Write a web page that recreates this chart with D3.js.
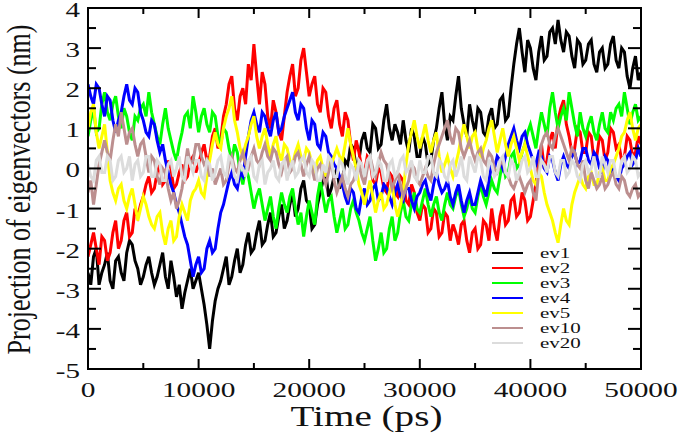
<!DOCTYPE html>
<html>
<head>
<meta charset="utf-8">
<script src="https://cdn.jsdelivr.net/npm/d3@7"></script>
<style>
  body { margin: 0; background: #fff; }
  text { font-family: "Liberation Serif", "Times New Roman", serif; fill: #111; }
</style>
</head>
<body>
<div id="chart"></div>
<script>
// sampled every 250 ps, 0 .. 50000 (20 values per row = 5000 ps)
const times = d3.range(0, 50001, 250)

const ev1 = [
  -2.6, -2.9, -2.2, -2.0, -2.9, -2.6, -2.4, -2.1, -2.8, -3.0, -2.3, -2.2, -2.6, -2.8, -2.1, -1.8, -1.9, -2.3, -2.5, -2.9,
  -2.7, -2.4, -2.2, -2.6, -2.9, -2.7, -2.4, -2.1, -2.7, -3.0, -2.3, -2.7, -3.2, -2.9, -3.5, -3.1, -2.8, -2.5, -3.0, -2.8,
  -2.6, -3.0, -3.4, -3.9, -4.5, -3.8, -3.3, -3.0, -2.8, -2.5, -2.2, -2.9, -2.7, -2.3, -2.0, -2.6, -2.4, -1.9, -1.6, -2.1,
  -2.0, -1.6, -1.3, -1.9, -1.8, -1.4, -1.1, -1.7, -1.6, -1.2, -0.9, -1.5, -1.3, -0.9, -0.6, -1.2, -1.0, -0.5, -0.3, -0.8,
  -0.9, -1.5, -1.4, -0.9, -0.6, -0.3, -0.1, -0.7, -0.5, -0.2, 0.0, -0.5, -0.3, 0.2, 0.1, 0.6, 0.5, 0.0, 0.2, 0.7,
  0.9, 0.5, 0.4, 1.1, 1.0, 0.5, 0.6, 1.2, 1.6, 1.0, 0.7, 1.1, 0.9, 0.6, 1.2, 0.7, 0.4, 1.0, 0.8, 0.3,
  0.3, 0.8, 0.6, 0.1, 0.2, 0.7, 1.0, 1.5, 1.9, 1.1, 0.7, 1.3, 1.2, 1.8, 2.3, 1.5, 1.1, 0.8, 1.6, 1.2,
  0.9, 1.5, 1.4, 0.9, 0.8, 1.3, 1.5, 1.0, 1.1, 1.7, 1.8, 1.2, 1.3, 2.0, 2.6, 3.1, 3.5, 2.9, 2.4, 3.2,
  3.0, 2.5, 2.2, 2.9, 3.3, 2.7, 2.8, 3.4, 3.5, 3.1, 3.7, 3.2, 2.9, 3.4, 3.3, 2.8, 2.5, 3.2, 3.1, 2.6,
  2.7, 3.1, 3.2, 2.6, 2.4, 2.9, 3.0, 2.5, 2.6, 3.1, 3.3, 2.7, 2.5, 3.0, 2.9, 2.3, 2.0, 2.5, 2.8, 2.2,
  2.4]

const ev2 = [
  -2.2, -1.9, -1.6, -2.0, -2.4, -1.7, -1.8, -2.3, -2.1, -1.6, -1.3, -2.0, -1.8, -1.3, -1.1, -1.7, -1.6, -1.0, -1.2, -0.9,
  -0.7, -0.4, -0.2, -0.6, -0.5, -0.1, 0.1, -0.4, -0.3, 0.2, 0.0, -0.5, -0.4, -0.1, 0.1, -0.3, -0.2, 0.2, 0.3, -0.1,
  0.1, 0.4, 0.6, 0.2, 0.3, 0.8, 1.0, 0.5, 0.7, 1.3, 1.6, 2.1, 2.3, 1.5, 1.2, 1.8, 2.0, 1.6, 2.6, 2.2,
  3.1, 2.3, 1.6, 2.4, 2.1, 1.3, 1.0, 1.7, 1.4, 0.9, 0.7, 1.3, 1.9, 2.3, 2.6, 1.8, 2.0, 2.7, 3.0, 2.4,
  1.8, 2.1, 2.3, 1.6, 1.4, 2.0, 1.9, 1.3, 1.0, 1.5, 1.7, 1.1, 0.8, 1.4, 1.2, 0.6, 0.2, 0.7, 0.4, 0.0,
  -0.1, 0.3, 0.2, -0.3, -0.4, 0.0, -0.1, -0.5, -0.6, -0.1, -0.2, -0.6, -0.7, -0.2, -0.3, -0.8, -0.9, -0.4, -0.6, -1.1,
  -1.3, -0.9, -1.0, -1.6, -1.5, -1.0, -1.1, -1.7, -1.6, -1.1, -1.2, -1.8, -1.4, -1.6, -1.9, -1.4, -1.3, -1.8, -2.1, -1.6,
  -1.5, -2.0, -1.9, -1.3, -1.4, -1.8, -1.0, -1.5, -1.8, -1.2, -0.9, -1.4, -1.3, -0.8, -0.7, -1.2, -1.1, -0.6, -0.8, -1.3,
  -1.2, -0.8, -0.4, 0.2, 0.6, 0.0, 0.2, 0.7, 0.9, 0.5, 1.2, 1.5, 1.7, 1.1, 0.8, 0.4, 0.5, 1.0, 0.9, 0.4,
  0.4, 0.9, 0.8, 0.2, 0.3, 0.8, 0.7, 0.2, 0.4, 1.0, 0.9, 0.5, 0.6, 0.2, 0.3, 0.8, 0.7, 0.3, 0.4, 0.8,
  0.6]

const ev3 = [
  0.8, 1.2, 1.5, 0.9, 1.0, 1.6, 1.9, 1.4, 1.2, 1.6, 1.8, 1.3, 1.0, 1.5, 1.3, 0.9, 0.7, 1.3, 1.2, 1.5,
  1.6, 1.3, 1.9, 1.4, 1.1, 0.8, 0.6, 1.1, 1.5, 1.0, 0.7, 0.4, 0.2, 0.6, 0.9, 1.3, 1.4, 1.0, 1.8, 1.4,
  0.9, 1.3, 1.5, 1.1, 0.9, 1.4, 1.3, 0.8, 0.6, 1.0, 0.9, 0.5, 0.2, 0.6, 0.4, -0.1, -0.4, 0.0, -0.2, -0.6,
  -1.0, -0.7, -0.5, -0.9, -1.3, -1.0, -0.7, -1.2, -1.5, -1.0, -0.6, -0.9, -1.1, -0.7, -0.5, -1.0, -1.4, -1.1, -1.7, -1.2,
  -0.8, -1.1, -1.4, -0.7, -0.3, -0.7, -1.1, -0.8, -0.7, -1.2, -1.6, -1.3, -1.0, -1.5, -1.4, -1.0, -0.8, -1.1, -1.3, -1.6,
  -1.8, -1.5, -1.2, -1.8, -2.3, -2.0, -1.6, -2.1, -2.0, -1.5, -1.2, -1.8, -1.6, -1.1, -0.8, -1.2, -1.3, -0.9, -0.6, -1.0,
  -1.1, -0.8, -0.5, -0.9, -1.2, -0.9, -0.7, -1.1, -1.3, -0.9, -0.6, -0.9, -1.0, -0.7, -0.5, -0.9, -1.2, -1.0, -0.7, -1.0,
  -1.1, -0.7, -0.4, -0.7, -0.9, -0.6, -0.3, -0.5, -0.6, -0.2, 0.2, -0.2, -0.1, 0.3, 0.4, 0.0, 0.1, 0.4, 0.6, 0.9,
  1.1, 0.8, 0.5, 1.0, 1.4, 1.1, 0.8, 1.5, 1.9, 1.4, 1.0, 1.3, 1.5, 1.2, 1.9, 1.5, 1.1, 0.8, 1.4, 1.0,
  0.8, 1.1, 1.3, 0.9, 0.7, 1.1, 1.4, 1.0, 0.9, 1.4, 1.2, 1.5, 1.6, 1.3, 1.9, 1.5, 1.1, 1.4, 1.6, 1.2,
  1.3]

const ev4 = [
  2.1, 1.8, 1.6, 2.1, 2.0, 1.6, 1.3, 1.8, 1.7, 1.2, 0.9, 1.2, 1.4, 1.8, 2.1, 1.7, 1.6, 2.0, 1.9, 1.4,
  1.2, 0.9, 0.8, 1.2, 1.1, 0.7, 0.4, 0.6, 0.2, -0.1, -0.4, -0.6, -0.9, -1.1, -1.4, -1.7, -1.9, -2.3, -2.7, -2.4,
  -2.2, -2.6, -2.5, -2.0, -1.8, -2.1, -2.0, -1.5, -1.1, -0.9, -0.6, -0.3, -0.1, -0.4, -0.5, -0.1, -0.2, 0.3, 0.8, 1.2,
  1.4, 1.1, 0.9, 1.4, 1.3, 1.0, 0.8, 1.2, 1.4, 0.9, 1.0, 1.3, 1.5, 1.7, 1.9, 1.4, 1.2, 1.6, 1.5, 1.0,
  0.7, 1.2, 1.1, 0.6, 0.5, 0.9, 0.8, 0.4, 0.3, 0.1, 0.0, -0.2, -0.4, -0.7, -0.9, -0.5, -0.6, -1.0, -1.1, -0.7,
  -0.5, -0.9, -0.8, -0.5, -0.4, -0.8, -0.7, -0.4, -0.5, -0.7, -0.9, -0.6, -0.4, -0.7, -0.8, -0.5, -0.5, -0.8, -1.0, -0.7,
  -0.6, -0.4, -0.3, -0.6, -0.8, -0.4, -0.1, -0.4, -0.6, -0.5, -0.3, -0.7, -0.9, -0.6, -0.4, -0.8, -1.1, -0.8, -0.6, -0.9,
  -0.9, -0.6, -0.3, -0.5, -0.7, -0.3, 0.1, 0.0, 0.3, 0.2, 0.0, 0.3, 0.6, 0.8, 1.0, 0.7, 0.5, 0.8, 0.9, 0.6,
  0.4, 0.2, 0.1, 0.4, 0.3, 0.0, -0.1, 0.3, 0.2, -0.1, -0.3, 0.1, 0.3, 0.1, 0.0, 0.3, 0.4, 0.1, 0.2, 0.5,
  0.5, 0.2, 0.1, 0.4, 0.3, 0.0, -0.1, 0.3, 0.2, -0.1, 0.0, -0.2, -0.3, 0.0, 0.1, 0.3, 0.4, 0.1, 0.2, 0.5,
  0.3]

const ev5 = [
  1.0, 1.4, 1.6, 0.9, 0.5, 0.8, 1.1, 0.4, -0.3, -0.6, -0.8, -0.5, -0.4, -0.8, -1.0, -0.7, -0.5, -0.9, -1.3, -1.0,
  -0.7, -0.9, -1.2, -1.4, -1.5, -1.2, -1.1, -1.6, -1.9, -1.5, -1.3, -1.8, -1.7, -1.2, -0.9, -1.1, -1.3, -0.8, -0.6, -0.5,
  -0.3, -0.6, -0.7, -0.2, 0.2, 0.6, 0.9, 0.6, 0.5, 1.0, 1.3, 1.5, 1.8, 1.2, 0.9, 0.5, 0.3, 0.6, 0.8, 1.1,
  1.3, 0.8, 0.5, 0.8, 1.0, 0.6, 0.3, 0.6, 0.8, 0.4, 0.2, 0.6, 0.5, 0.2, 0.1, 0.4, 0.6, 0.3, 0.2, 0.5,
  0.4, 0.1, -0.1, 0.2, 0.3, 0.0, -0.2, 0.2, 0.1, 0.3, 0.5, 0.3, 0.2, 0.6, 1.0, 0.6, 0.3, 0.0, -0.4, -0.6,
  -0.9, -0.6, -0.3, -0.7, -1.1, -0.8, -0.6, -1.0, -0.9, -0.6, -0.4, -0.9, -1.2, -0.9, -0.6, 0.1, 0.6, 0.9, 1.2, 0.8,
  0.5, 0.8, 1.1, 0.7, 0.4, 0.7, 0.9, 0.3, -0.1, 0.1, 0.3, 0.0, -0.2, 0.1, 0.4, 0.8, 1.1, 0.8, 0.5, 0.8,
  0.9, 0.5, 0.2, 0.5, 0.7, 1.0, 1.2, 0.8, 0.4, 0.7, 1.0, 0.6, 0.3, 0.6, 0.8, 0.5, 0.2, 0.4, 0.6, 0.3,
  0.0, -0.3, -0.4, -0.1, -0.2, -0.6, -0.9, -1.1, -1.3, -1.6, -1.85, -1.4, -1.0, -1.3, -1.4, -0.9, -0.6, -0.4, -0.2, -0.4,
  -0.5, -0.2, -0.1, -0.4, -0.4, -0.1, 0.0, -0.3, -0.3, 0.0, 0.1, 0.3, 0.5, 0.8, 0.9, 1.2, 1.4, 1.0, 0.7, 1.0,
  1.1]

const ev10 = [
  -0.6, -0.3, -0.9, -0.4, 0.1, 0.4, 0.7, 0.4, 0.2, 0.7, 1.1, 0.8, 1.4, 1.0, 0.6, 0.9, 1.0, 0.6, 0.3, 0.6,
  0.7, 0.3, -0.1, 0.3, 0.2, -0.2, -0.4, 0.0, -0.1, -0.5, -0.8, -0.6, -1.0, -0.8, -0.5, 0.0, 0.5, 0.1, 0.2, 0.6,
  0.6, 0.3, 0.1, 0.2, -0.2, 0.0, -0.4, -0.2, 0.0, -0.4, -0.3, 0.1, 0.3, 0.0, -0.1, 0.2, 0.4, 0.1, 0.0, 0.3,
  0.5, 0.2, 0.1, 0.4, 0.6, 0.3, 0.2, 0.5, 0.4, 0.1, -0.1, 0.2, 0.3, -0.1, 0.0, 0.3, 0.4, 0.1, -0.2, 0.1,
  0.3, 0.0, -0.3, 0.0, 0.1, -0.2, -0.4, -0.1, 0.2, -0.3, -0.6, -0.4, -0.2, -0.5, -0.7, -0.4, -0.3, -0.1, 0.1, -0.2,
  -0.4, 0.0, 0.3, 0.0, -0.2, 0.1, 0.4, 0.2, 0.1, -0.2, -0.5, -0.3, -0.1, -0.4, -0.7, -0.5, -0.3, 0.1, 0.0, -0.3,
  -0.4, -0.2, 0.0, -0.2, -0.3, 0.1, 0.4, 0.6, 0.8, 1.0, 1.2, 0.8, 0.6, 1.0, 0.9, 0.5, 0.3, 0.5, 0.7, 0.4,
  0.2, 0.4, 0.5, 0.2, 0.1, 0.4, 0.3, 0.0, -0.1, 0.1, 0.2, -0.1, -0.2, -0.4, -0.5, -0.3, -0.2, -0.4, -0.6, -0.4,
  -0.3, -0.6, -0.8, -0.1, 0.6, 0.8, 0.9, 0.6, 0.5, 0.8, 1.0, 0.8, 0.6, 0.4, 0.2, 0.5, 0.4, 0.1, 0.0, 0.2,
  -0.3, -0.5, -0.1, -0.3, -0.5, -0.4, -0.2, -0.5, -0.4, -0.2, -0.1, -0.4, -0.5, -0.2, -0.3, -0.6, -0.7, -0.5, -0.4, -0.7,
  -0.6]

const ev20 = [
  0.1, -0.2, -0.3, 0.2, 0.3, -0.1, -0.1, 0.3, 0.2, -0.3, -0.2, 0.2, 0.3, -0.1, 0.0, 0.3, -0.3, 0.1, 0.2, -0.2,
  -0.1, 0.3, 0.3, -0.2, -0.2, 0.2, 0.1, -0.3, -0.3, 0.1, 0.2, -0.2, 0.0, 0.3, -0.2, -0.3, 0.3, 0.1, -0.1, 0.2,
  0.2, -0.2, -0.3, 0.2, 0.1, -0.3, -0.1, 0.2, 0.3, -0.1, -0.2, 0.3, 0.2, -0.2, -0.3, 0.1, 0.0, -0.2, 0.2, 0.3,
  -0.2, -0.3, 0.1, 0.2, -0.4, -0.1, 0.0, 0.2, -0.2, -0.3, 0.1, 0.2, -0.3, 0.0, 0.2, -0.2, -0.1, 0.2, 0.3, -0.1,
  -0.2, 0.2, 0.1, -0.3, -0.3, 0.1, -0.1, 0.3, 0.2, -0.2, -0.2, 0.2, 0.1, -0.2, -0.4, 0.1, 0.0, -0.3, 0.2, 0.1,
  -0.2, 0.2, 0.3, -0.2, -0.1, 0.2, 0.1, -0.3, -0.3, 0.1, 0.2, -0.2, -0.1, 0.2, 0.3, -0.1, 0.0, 0.2, -0.2, -0.3,
  0.2, -0.1, -0.1, 0.3, 0.3, -0.1, -0.2, 0.2, 0.1, -0.2, -0.3, 0.1, 0.2, -0.2, 0.0, 0.3, -0.2, -0.3, 0.3, 0.1,
  -0.1, 0.3, 0.2, -0.2, -0.3, 0.2, 0.1, -0.2, -0.1, 0.2, 0.3, -0.1, -0.2, 0.2, 0.1, -0.3, -0.1, 0.2, 0.3, -0.1,
  0.0, 0.3, -0.2, -0.2, 0.2, 0.1, -0.1, 0.3, 0.3, -0.1, -0.2, 0.2, 0.2, -0.2, -0.1, 0.2, 0.1, -0.2, -0.3, 0.1,
  0.2, -0.1, 0.0, 0.3, -0.2, -0.2, 0.3, 0.1, -0.1, 0.2, 0.2, -0.2, -0.2, 0.2, 0.3, -0.1, 0.0, 0.3, 0.2, -0.2,
  -0.1]

const seriesNames = ['ev1', 'ev2', 'ev3', 'ev4', 'ev5', 'ev10', 'ev20']
const seriesValues = [ev1, ev2, ev3, ev4, ev5, ev10, ev20]
const seriesColors = ['#000000', '#ff0000', '#00ff00', '#0000ff', '#ffff00', '#bc8f8f', '#dcdcdc']

const xTicks = [0, 10000, 20000, 30000, 40000, 50000]
const yTicks = [-5, -4, -3, -2, -1, 0, 1, 2, 3, 4]

const W = 683, H = 435
const plot = { left: 88, right: 641, top: 8, bottom: 369 }

const svg = d3.select('#chart').append('svg')
  .attr('width', W).attr('height', H)

const x = d3.scaleLinear().domain([0, 50000]).range([plot.left, plot.right])
const y = d3.scaleLinear().domain([-5, 4]).range([plot.bottom, plot.top])

svg.append('clipPath').attr('id', 'clip')
  .append('rect')
  .attr('x', plot.left).attr('y', plot.top)
  .attr('width', plot.right - plot.left).attr('height', plot.bottom - plot.top)

// series lines, ev1 first so ev20 ends on top
const line = d3.line()
  .x((d, i) => x(times[i]))
  .y(d => y(d))

const lines = svg.append('g').attr('clip-path', 'url(#clip)')
seriesValues.forEach((vals, k) => {
  lines.append('path')
    .attr('d', line(vals))
    .attr('fill', 'none')
    .attr('stroke', seriesColors[k])
    .attr('stroke-width', 3)
})

// ticks, pointing inward on all four sides
const minorX = d3.range(5000, 50000, 10000)
const minorY = d3.range(-4.5, 4, 1)
const tk = svg.append('g').attr('stroke', '#000').attr('stroke-width', 2)

function vTicks(vals, len) {
  vals.forEach(v => {
    tk.append('line').attr('x1', x(v)).attr('x2', x(v))
      .attr('y1', plot.bottom).attr('y2', plot.bottom - len)
    tk.append('line').attr('x1', x(v)).attr('x2', x(v))
      .attr('y1', plot.top).attr('y2', plot.top + len)
  })
}
function hTicks(vals, len) {
  vals.forEach(v => {
    tk.append('line').attr('y1', y(v)).attr('y2', y(v))
      .attr('x1', plot.left).attr('x2', plot.left + len)
    tk.append('line').attr('y1', y(v)).attr('y2', y(v))
      .attr('x1', plot.right).attr('x2', plot.right - len)
  })
}
vTicks(xTicks, 10)
vTicks(minorX, 6)
hTicks(yTicks, 13)
hTicks(minorY, 8)

// frame
svg.append('rect')
  .attr('x', plot.left).attr('y', plot.top)
  .attr('width', plot.right - plot.left).attr('height', plot.bottom - plot.top)
  .attr('fill', 'none').attr('stroke', '#000').attr('stroke-width', 2)

// tick labels (the original figure is stretched sideways)
svg.append('g').selectAll('text')
  .data(xTicks).enter().append('text')
  .attr('transform', d => 'translate(' + x(d) + ',397) scale(1.4,1)')
  .attr('text-anchor', 'middle')
  .style('font-size', '21px')
  .text(d => d)

svg.append('g').selectAll('text')
  .data(yTicks).enter().append('text')
  .attr('transform', d => 'translate(80,' + (y(d) + 9) + ') scale(1.45,1)')
  .attr('text-anchor', 'end')
  .style('font-size', '20px')
  .text(d => d)

// axis titles
svg.append('text')
  .attr('transform', 'translate(' + ((plot.left + plot.right) / 2 + 2) + ',426) scale(1.35,1)')
  .attr('text-anchor', 'middle')
  .style('font-size', '29px')
  .text('Time (ps)')

svg.append('text')
  .attr('transform', 'translate(30,' + ((plot.top + plot.bottom) / 2 + 1) + ') scale(1.3,1) rotate(-90)')
  .attr('text-anchor', 'middle')
  .style('font-size', '26px')
  .text('Projection of eigenvectors (nm)')

// legend
const leg = svg.append('g')
seriesNames.forEach((name, k) => {
  let ly = 253 + k * 15
  leg.append('line')
    .attr('x1', 492).attr('x2', 523).attr('y1', ly).attr('y2', ly)
    .attr('stroke', seriesColors[k]).attr('stroke-width', 2)
  leg.append('text')
    .attr('transform', 'translate(540,' + (ly + 5) + ') scale(1.4,1)')
    .style('font-size', '15px')
    .text(name)
})
</script>
</body>
</html>
